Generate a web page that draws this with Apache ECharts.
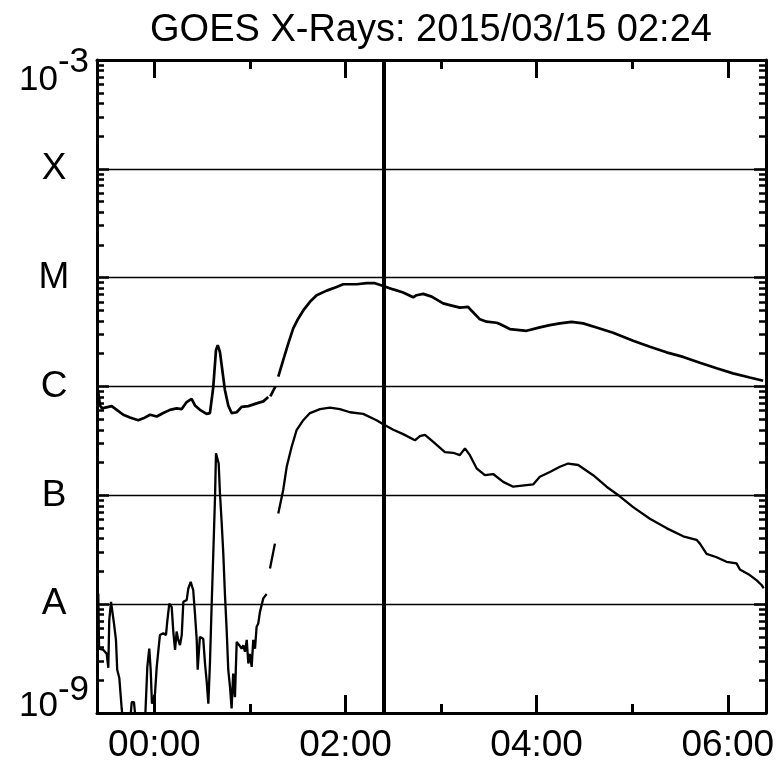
<!DOCTYPE html>
<html><head><meta charset="utf-8">
<script src="https://cdn.jsdelivr.net/npm/echarts@6/dist/echarts.min.js"></script>
<style>html,body{margin:0;padding:0;background:#fff}#c{width:778px;height:779px}</style>
</head><body><div id="c"></div>
<script>
const titleText = 'GOES X-Rays: 2015/03/15 02:24';
// time in minutes from 2015/03/15 00:00
const xMin = -36, xMax = 384;
const xMajorTicks = [0, 120, 240, 360];
const xMinorTicks = [60, 180, 300];
const markerTime = 144; // 02:24
const yMin = 1e-9, yMax = 1e-3;
const classLabels = ['X', 'M', 'C', 'B', 'A']; // 1e-4 ... 1e-8

// long channel (1-8 A)
const upperTimes = [-35.4,-34.1,-32.9,-32.0,-26.8,-23.6,-19.5,-15.3,-10.1,-6.9,-2.7,1.5,5.6,9.8,14.0,17.2,20.3,23.4,25.5,28.6,32.8,34.9,37.0,38.7,39.8,41.2,42.9,44.3,46.4,48.5,51.7,54.8,59.0,64.2,68.4,71.5,72.2,72.8,76.0,77.0,77.8,80.9,84.1,87.2,90.3,93.5,97.7,101.9,108.2,114.4,118.6,127.0,133.3,138.5,143.7,150.0,156.2,162.5,164.6,168.8,174.1,181.3,185.5,191.8,197.0,199.2,204.4,208.6,214.9,216.9,223.2,233.7,242.0,248.3,254.6,261.9,269.2,277.6,288.0,300.6,311.1,321.5,332.0,342.5,353.0,363.3,373.8,382.2];
const upperFlux = [9.3e-7,6.7e-7,6.3e-7,6.5e-7,6.6e-7,6.1e-7,5.5e-7,5.2e-7,4.9e-7,5.1e-7,5.5e-7,5.3e-7,5.7e-7,6.1e-7,6.3e-7,6.2e-7,7.2e-7,7.7e-7,6.7e-7,6.1e-7,5.6e-7,5.7e-7,9.9e-7,2.16e-6,2.4e-6,2.07e-6,1.33e-6,9.3e-7,6.7e-7,5.7e-7,5.8e-7,6.5e-7,6.6e-7,7.0e-7,7.3e-7,8.0e-7,null,8.1e-7,1.0e-6,null,1.23e-6,1.75e-6,2.49e-6,3.42e-6,4.2e-6,5.0e-6,6.0e-6,6.9e-6,7.6e-6,8.2e-6,8.7e-6,8.7e-6,8.9e-6,8.9e-6,8.4e-6,7.8e-6,7.3e-6,6.6e-6,6.9e-6,7.1e-6,6.7e-6,5.8e-6,5.6e-6,5.3e-6,5.4e-6,4.96e-6,4.14e-6,3.94e-6,3.85e-6,3.75e-6,3.37e-6,3.25e-6,3.49e-6,3.66e-6,3.8e-6,3.93e-6,3.8e-6,3.49e-6,3.12e-6,2.63e-6,2.32e-6,2.06e-6,1.87e-6,1.65e-6,1.47e-6,1.32e-6,1.21e-6,1.13e-6];

// short channel (0.5-4 A)
const lowerTimes = [-35.2,-34.7,-32.0,-29.9,-28.9,-28.3,-27.2,-26.1,-25.3,-24.1,-23.3,-22.0,-20.5,-19.5,-15.3,-14.2,-12.8,-11.5,-5.9,-4.4,-3.2,-2.3,-1.5,0.4,1.5,3.5,5.6,7.3,8.1,9.4,10.9,11.9,13.0,14.0,15.0,16.1,17.2,18.2,20.3,21.3,22.8,24.4,25.5,26.6,27.2,28.6,30.7,31.8,32.8,33.9,34.9,36.0,37.0,38.1,38.7,39.5,40.4,41.2,42.3,43.3,44.3,45.4,46.4,47.5,48.5,49.5,50.6,51.7,53.3,54.8,55.8,56.9,58.0,59.0,60.0,61.1,62.1,63.2,64.2,65.2,66.3,67.4,68.4,70.5,71.5,72.6,75.7,76.8,77.8,80.9,83.1,86.2,89.3,93.5,97.7,104.0,110.2,116.5,122.8,131.1,139.5,143.7,150.0,156.2,163.6,166.7,169.9,175.1,182.4,187.6,191.8,195.0,198.1,202.3,207.5,212.7,219.0,225.3,237.8,242.0,248.3,254.6,259.8,266.1,275.5,283.9,292.2,300.6,311.1,321.5,332.0,340.4,342.5,346.7,353.0,359.2,365.5,367.6,373.8,378.0,381.2,382.6];
const lowerFlux = [1.25e-8,3.9e-9,3.8e-9,3.5e-9,2.6e-9,7.1e-9,1.05e-8,1.01e-8,6.6e-9,4.7e-9,2.5e-9,2.1e-9,1.1e-9,8e-10,8e-10,1.26e-9,1.26e-9,8e-10,8e-10,2.65e-9,3.9e-9,2.5e-9,1.22e-9,1.5e-9,2.65e-9,5.2e-9,5.4e-9,5.2e-9,6.9e-9,1.01e-8,9.4e-9,5.6e-9,3.8e-9,5.6e-9,4.7e-9,4.2e-9,5.2e-9,1.05e-8,1.09e-8,1.39e-8,1.6e-8,1.35e-8,8.2e-9,4.7e-9,2.5e-9,5.0e-9,4.8e-9,2.85e-9,2.0e-9,1.22e-9,2.85e-9,1.01e-8,2.9e-8,9.7e-8,2.43e-7,2.5e-7,1.96e-7,1.04e-7,5.5e-8,2.9e-8,1.25e-8,5.8e-9,2.5e-9,1.74e-9,1.1e-9,2.3e-9,1.4e-9,4.5e-9,4.2e-9,3.9e-9,4.2e-9,3.65e-9,4.7e-9,2.85e-9,3.5e-9,2.65e-9,4.7e-9,3.9e-9,6.2e-9,6.6e-9,8.5e-9,8.8e-9,1.13e-8,1.24e-8,null,2.13e-8,3.6e-8,null,6.8e-8,1.12e-7,1.83e-7,2.79e-7,3.97e-7,4.9e-7,5.7e-7,6.2e-7,6.4e-7,6.2e-7,5.8e-7,5.6e-7,4.9e-7,4.5e-7,4.0e-7,3.65e-7,3.2e-7,3.5e-7,3.6e-7,3.1e-7,2.5e-7,2.46e-7,2.34e-7,2.7e-7,2.34e-7,1.77e-7,1.53e-7,1.57e-7,1.33e-7,1.2e-7,1.26e-7,1.48e-7,1.64e-7,1.83e-7,1.96e-7,1.9e-7,1.53e-7,1.2e-7,9.8e-8,7.8e-8,6.1e-8,5.0e-8,4.2e-8,3.9e-8,3.6e-8,2.9e-8,2.7e-8,2.45e-8,2.37e-8,2.08e-8,1.85e-8,1.66e-8,1.5e-8,1.4e-8];

const FONT = "'Liberation Sans', Arial, Helvetica, sans-serif";
const yMinorTicks = [];
for (let n = Math.round(Math.log10(yMin)); n < Math.round(Math.log10(yMax)); n++) {
  for (let k = 2; k <= 9; k++) yMinorTicks.push(n + Math.log10(k));
}
function pad2(v) { return (v < 10 ? '0' : '') + v; }
function fmtTime(m) {
  let h = Math.floor(m / 60); const mm = Math.round(m - h * 60);
  h = ((h % 24) + 24) % 24;
  return pad2(h) + ':' + pad2(mm);
}
function fmtY(v) {
  const e = Math.round(Math.log10(v));
  if (e === -3) return '{bt|10}{st|-3}';
  if (e === -9) return '{bb|10}{sb|-9}';
  return classLabels[-4 - e] || '';
}
function toData(ts, vs) { return ts.map((t, i) => [t, vs[i] == null ? '-' : vs[i]]); }

const baseX = { type: 'value', min: xMin, max: xMax, splitLine: { show: false } };
const tickStyle = w => ({ color: '#000', width: w });

const chart = echarts.init(document.getElementById('c'), null, { renderer: 'canvas' });
chart.setOption({
  animation: false,
  backgroundColor: '#fff',
  title: {
    text: titleText, left: 431, top: 12, textAlign: 'center', padding: 0,
    textStyle: { fontSize: 38, fontWeight: 'normal', color: '#000', fontFamily: FONT }
  },
  grid: { left: 97, right: 12, top: 60, bottom: 66 },
  xAxis: [
    Object.assign({}, baseX, {
      position: 'bottom',
      axisLine: { show: true, onZero: false, lineStyle: { color: '#000', width: 3 } },
      axisTick: { show: true, inside: true, length: 18, customValues: xMajorTicks, lineStyle: tickStyle(3) },
      axisLabel: { show: true, customValues: xMajorTicks, formatter: fmtTime, fontSize: 37, color: '#000',
        fontFamily: FONT, verticalAlign: 'middle', margin: 33 }
    }),
    Object.assign({}, baseX, {
      position: 'bottom',
      axisLine: { show: false, onZero: false },
      axisTick: { show: true, inside: true, length: 9, customValues: xMinorTicks, lineStyle: tickStyle(3) },
      axisLabel: { show: false }
    }),
    Object.assign({}, baseX, {
      position: 'top',
      axisLine: { show: true, onZero: false, lineStyle: { color: '#000', width: 3 } },
      axisTick: { show: true, inside: true, length: 18, customValues: xMajorTicks, lineStyle: tickStyle(3) },
      axisLabel: { show: false }
    }),
    Object.assign({}, baseX, {
      position: 'top',
      axisLine: { show: false, onZero: false },
      axisTick: { show: true, inside: true, length: 9, customValues: xMinorTicks, lineStyle: tickStyle(3) },
      axisLabel: { show: false }
    })
  ],
  yAxis: [
    {
      type: 'log', logBase: 10, min: yMin, max: yMax, position: 'left',
      axisLine: { show: true, onZero: false, lineStyle: { color: '#000', width: 3 } },
      axisTick: { show: true, inside: true, length: 12, lineStyle: tickStyle(2.5) },
      splitLine: { show: true, lineStyle: { color: '#000', width: 1.3 } },
      axisLabel: {
        show: true, formatter: fmtY, align: 'center', margin: 43, fontSize: 37, color: '#000', fontFamily: FONT,
        rich: {
          bt: { fontSize: 35, fontFamily: FONT, color: '#000', padding: [40, 0, 0, 0] },
          st: { fontSize: 35, fontFamily: FONT, color: '#000', padding: [5, 0, 0, 0] },
          bb: { fontSize: 35, fontFamily: FONT, color: '#000', padding: [0, 0, 14, 0] },
          sb: { fontSize: 35, fontFamily: FONT, color: '#000', padding: [0, 0, 46, 0] }
        }
      }
    },
    {
      type: 'value', min: -9, max: -3, position: 'left',
      axisLine: { show: false, onZero: false }, splitLine: { show: false }, axisLabel: { show: false },
      axisTick: { show: true, inside: true, length: 7, customValues: yMinorTicks, lineStyle: tickStyle(2.5) }
    },
    {
      type: 'log', logBase: 10, min: yMin, max: yMax, position: 'right',
      axisLine: { show: true, onZero: false, lineStyle: { color: '#000', width: 3 } },
      axisTick: { show: true, inside: true, length: 12, lineStyle: tickStyle(2.5) },
      splitLine: { show: false }, axisLabel: { show: false }
    },
    {
      type: 'value', min: -9, max: -3, position: 'right',
      axisLine: { show: false, onZero: false }, splitLine: { show: false }, axisLabel: { show: false },
      axisTick: { show: true, inside: true, length: 7, customValues: yMinorTicks, lineStyle: tickStyle(2.5) }
    }
  ],
  series: [
    {
      type: 'line', xAxisIndex: 0, yAxisIndex: 0, data: toData(upperTimes, upperFlux),
      showSymbol: false, connectNulls: false, clip: true, silent: true,
      lineStyle: { color: '#000', width: 2.7 },
      markLine: {
        silent: true, symbol: 'none', label: { show: false },
        lineStyle: { color: '#000', width: 4, type: 'solid' },
        data: [{ xAxis: markerTime }]
      }
    },
    {
      type: 'line', xAxisIndex: 0, yAxisIndex: 0, data: toData(lowerTimes, lowerFlux),
      showSymbol: false, connectNulls: false, clip: true, silent: true,
      lineStyle: { color: '#000', width: 2.3 }
    }
  ]
});
</script></body></html>
